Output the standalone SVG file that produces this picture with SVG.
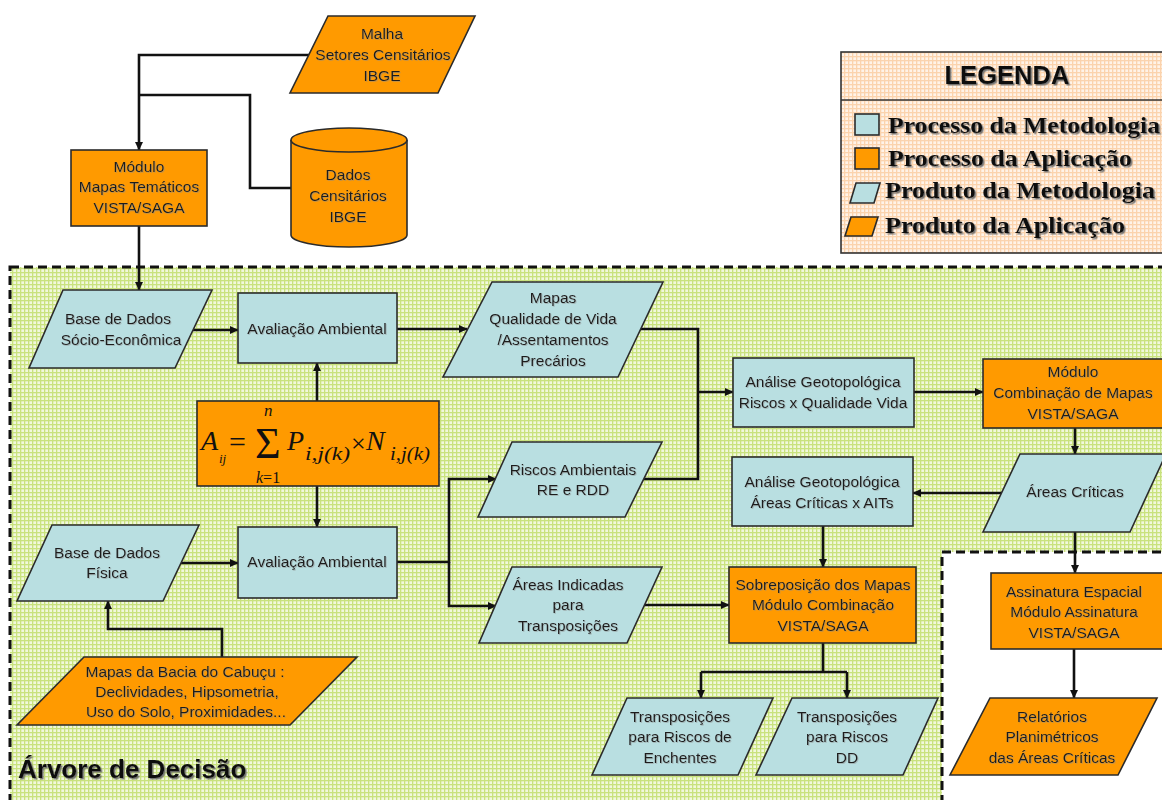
<svg xmlns="http://www.w3.org/2000/svg" width="1162" height="800" viewBox="0 0 1162 800">
<defs>
<pattern id="gp" width="4" height="4" patternUnits="userSpaceOnUse">
<rect width="4" height="4" fill="#f1f8dc"/>
<rect x="0" y="0" width="4" height="1.3" fill="#c9e27e"/>
<rect x="0" y="0" width="1.3" height="4" fill="#c9e27e"/>
</pattern>
<pattern id="pp" width="4" height="4" patternUnits="userSpaceOnUse">
<rect width="4" height="4" fill="#fff3e8"/>
<rect x="0" y="0" width="4" height="1.3" fill="#fbd3ad"/>
<rect x="0" y="0" width="1.3" height="4" fill="#fbd3ad"/>
</pattern>
<marker id="ar" markerWidth="9" markerHeight="9" refX="8" refY="4.5" orient="auto" markerUnits="userSpaceOnUse">
<path d="M0,0.5 L8.5,4.5 L0,8.5 z" fill="#111"/>
</marker>
<filter id="sh" x="-5%" y="-20%" width="115%" height="150%">
<feDropShadow dx="1.5" dy="1.5" stdDeviation="0.6" flood-color="#6a6a6a" flood-opacity="0.9"/>
</filter>
<filter id="sh2" x="-5%" y="-20%" width="115%" height="150%">
<feDropShadow dx="0.8" dy="0.8" stdDeviation="0.4" flood-color="#8a8a8a" flood-opacity="0.6"/>
</filter>
</defs>
<style>
.pb{fill:#b9dfe1;stroke:#2b2b2b;stroke-width:1.6}
.po{fill:#ff9a00;stroke:#2b2b2b;stroke-width:1.6}
.t{font-family:"Liberation Sans",Arial,sans-serif;font-size:15.5px;fill:#1c1c1c;text-anchor:middle;filter:url(#sh2)}
.c{fill:none;stroke:#111;stroke-width:2.6}
.ca{fill:none;stroke:#111;stroke-width:2.6;marker-end:url(#ar)}
.lg{font-family:"Liberation Serif","Times New Roman",serif;font-weight:bold;font-size:24px;fill:#111;filter:url(#sh)}
.fm{font-family:"Liberation Serif","Times New Roman",serif;font-style:italic;fill:#111}
.fr{font-family:"Liberation Serif","Times New Roman",serif;fill:#111}
</style>
<rect width="1162" height="800" fill="#ffffff"/>

<g id="decision-region">
<path d="M10,267 H1164 V552 H942 V802 H10 Z" fill="url(#gp)" stroke="#111" stroke-width="3" stroke-dasharray="9,5"/>
<text x="18" y="778" font-family="'Liberation Sans',Arial,sans-serif" font-weight="bold" font-size="26" fill="#111" filter="url(#sh)">Árvore de Decisão</text>
</g>

<g id="legend">
<rect x="841" y="52" width="330" height="201" fill="url(#pp)" stroke="#333" stroke-width="1.6"/>
<line x1="841" y1="100" x2="1162" y2="100" stroke="#333" stroke-width="1.6"/>
<text x="1007" y="84" text-anchor="middle" font-family="'Liberation Sans',Arial,sans-serif" font-weight="bold" font-size="26" textLength="125" lengthAdjust="spacingAndGlyphs" fill="#111" filter="url(#sh)">LEGENDA</text>
<rect x="855" y="114" width="24" height="21" class="pb"/>
<text x="888" y="133" class="lg" textLength="272" lengthAdjust="spacingAndGlyphs">Processo da Metodologia</text>
<rect x="855" y="148" width="24" height="21" class="po"/>
<text x="888" y="166" class="lg" textLength="244" lengthAdjust="spacingAndGlyphs">Processo da Aplicação</text>
<polygon points="856,183 880,183 874,203 850,203" class="pb"/>
<text x="885" y="198" class="lg" textLength="270" lengthAdjust="spacingAndGlyphs">Produto da Metodologia</text>
<polygon points="851,217 878,217 872,236 845,236" class="po"/>
<text x="885" y="233" class="lg" textLength="240" lengthAdjust="spacingAndGlyphs">Produto da Aplicação</text>
</g>

<g id="connectors">
<path class="ca" d="M309,55 H139 V150"/>
<path class="c" d="M291,188 H250 V95 H139"/>
<path class="ca" d="M139,226 V290"/>
<path class="ca" d="M193,330 H238"/>
<path class="ca" d="M317,401 V363"/>
<path class="ca" d="M317,486 V527"/>
<path class="ca" d="M397,329 H467"/>
<path class="c" d="M640,329 H698 V479 H644"/>
<path class="ca" d="M698,392 H733"/>
<path class="ca" d="M397,562 H449 V479 H496"/>
<path class="ca" d="M449,562 V606 H496"/>
<path class="ca" d="M181,563 H238"/>
<path class="ca" d="M222,657 V629 H108 V601"/>
<path class="ca" d="M644,605 H729"/>
<path class="ca" d="M914,392 H983"/>
<path class="ca" d="M1075,428 V454"/>
<path class="ca" d="M1002,493 H913"/>
<path class="ca" d="M823,526 V567"/>
<path class="ca" d="M1075,532 V573"/>
<path class="ca" d="M1074,649 V698"/>
<path class="c" d="M823,643 V672 M701,672 H847"/>
<path class="ca" d="M701,672 V698"/>
<path class="ca" d="M847,672 V698"/>
</g>

<g id="malha">
<polygon points="328,16 475,16 438,93 290,93" class="po"/>
<text class="t" x="382" y="39">Malha</text>
<text class="t" x="383" y="60">Setores Censitários</text>
<text class="t" x="382" y="81">IBGE</text>
</g>

<g id="modulo-mapas">
<rect x="71" y="150" width="136" height="76" class="po"/>
<text class="t" x="139" y="172">Módulo</text>
<text class="t" x="139" y="192">Mapas Temáticos</text>
<text class="t" x="139" y="213">VISTA/SAGA</text>
</g>

<g id="dados-censitarios">
<path d="M291,140 V235 A58,12 0 0 0 407,235 V140 A58,12 0 0 0 291,140 Z" class="po"/>
<path d="M291,140 A58,12 0 0 0 407,140" fill="none" stroke="#2b2b2b" stroke-width="1.6"/>
<text class="t" x="348" y="180">Dados</text>
<text class="t" x="348" y="201">Censitários</text>
<text class="t" x="348" y="222">IBGE</text>
</g>

<g id="base-socio">
<polygon points="63,290 212,290 175,368 29,368" class="pb"/>
<text class="t" x="118" y="324">Base de Dados</text>
<text class="t" x="121" y="345">Sócio-Econômica</text>
</g>

<g id="avaliacao-1">
<rect x="238" y="293" width="159" height="70" class="pb"/>
<text class="t" x="317" y="334">Avaliação Ambiental</text>
</g>

<g id="formula">
<rect x="197" y="401" width="242" height="85" class="po"/>
<text class="fm" x="201" y="450" font-size="28">A</text>
<text class="fm" x="219" y="463" font-size="13">ij</text>
<text class="fr" x="229" y="452" font-size="30">=</text>
<text class="fr" x="255" y="458" font-size="44">Σ</text>
<text class="fm" x="264" y="416" font-size="17">n</text>
<text class="fr" x="256" y="483" font-size="16"><tspan font-style="italic">k</tspan>=1</text>
<text class="fm" x="287" y="450" font-size="28">P</text>
<text class="fm" x="305" y="460" font-size="19" textLength="45" lengthAdjust="spacingAndGlyphs">i,j(k)</text>
<text class="fr" x="351" y="452" font-size="26">×</text>
<text class="fm" x="366" y="450" font-size="28">N</text>
<text class="fm" x="390" y="460" font-size="19" textLength="40" lengthAdjust="spacingAndGlyphs">i,j(k)</text>
</g>

<g id="mapas-qualidade">
<polygon points="492,282 663,282 618,377 443,377" class="pb"/>
<text class="t" x="553" y="303">Mapas</text>
<text class="t" x="553" y="324">Qualidade de Vida</text>
<text class="t" x="553" y="345">/Assentamentos</text>
<text class="t" x="553" y="366">Precários</text>
</g>

<g id="riscos">
<polygon points="512,442 662,442 625,517 478,517" class="pb"/>
<text class="t" x="573" y="475">Riscos Ambientais</text>
<text class="t" x="573" y="495">RE  e RDD</text>
</g>

<g id="analise-1">
<rect x="733" y="358" width="181" height="69" class="pb"/>
<text class="t" x="823" y="387">Análise Geotopológica</text>
<text class="t" x="823" y="408">Riscos x Qualidade Vida</text>
</g>

<g id="modulo-combinacao">
<rect x="983" y="359" width="182" height="69" class="po"/>
<text class="t" x="1073" y="377">Módulo</text>
<text class="t" x="1073" y="398">Combinação de Mapas</text>
<text class="t" x="1073" y="419">VISTA/SAGA</text>
</g>

<g id="areas-criticas">
<polygon points="1020,454 1166,454 1130,532 983,532" class="pb"/>
<text class="t" x="1075" y="497">Áreas Críticas</text>
</g>

<g id="analise-2">
<rect x="732" y="457" width="181" height="69" class="pb"/>
<text class="t" x="822" y="487">Análise Geotopológica</text>
<text class="t" x="822" y="508">Áreas Críticas x AITs</text>
</g>

<g id="base-fisica">
<polygon points="52,525 199,525 163,601 17,601" class="pb"/>
<text class="t" x="107" y="558">Base de Dados</text>
<text class="t" x="107" y="578">Física</text>
</g>

<g id="avaliacao-2">
<rect x="238" y="527" width="159" height="71" class="pb"/>
<text class="t" x="317" y="567">Avaliação Ambiental</text>
</g>

<g id="mapas-bacia">
<polygon points="84,657 357,657 290,725 17,725" class="po"/>
<text class="t" x="185" y="677">Mapas da Bacia do Cabuçu :</text>
<text class="t" x="187" y="697">Declividades, Hipsometria,</text>
<text class="t" x="186" y="717">Uso do Solo, Proximidades...</text>
</g>

<g id="areas-indicadas">
<polygon points="512,567 662,567 627,643 479,643" class="pb"/>
<text class="t" x="568" y="590">Áreas Indicadas</text>
<text class="t" x="568" y="610">para</text>
<text class="t" x="568" y="631">Transposições</text>
</g>

<g id="sobreposicao">
<rect x="729" y="567" width="187" height="76" class="po"/>
<text class="t" x="823" y="590">Sobreposição dos Mapas</text>
<text class="t" x="823" y="610">Módulo Combinação</text>
<text class="t" x="823" y="631">VISTA/SAGA</text>
</g>

<g id="transp-enchentes">
<polygon points="627,698 773,698 738,775 592,775" class="pb"/>
<text class="t" x="680" y="722">Transposições</text>
<text class="t" x="680" y="742">para Riscos de</text>
<text class="t" x="680" y="763">Enchentes</text>
</g>

<g id="transp-dd">
<polygon points="792,698 938,698 903,775 756,775" class="pb"/>
<text class="t" x="847" y="722">Transposições</text>
<text class="t" x="847" y="742">para Riscos</text>
<text class="t" x="847" y="763">DD</text>
</g>

<g id="assinatura">
<rect x="991" y="573" width="173" height="76" class="po"/>
<text class="t" x="1074" y="597">Assinatura Espacial</text>
<text class="t" x="1074" y="617">Módulo Assinatura</text>
<text class="t" x="1074" y="638">VISTA/SAGA</text>
</g>

<g id="relatorios">
<polygon points="990,698 1157,698 1118,775 950,775" class="po"/>
<text class="t" x="1052" y="722">Relatórios</text>
<text class="t" x="1052" y="742">Planimétricos</text>
<text class="t" x="1052" y="763">das Áreas Críticas</text>
</g>
</svg>
